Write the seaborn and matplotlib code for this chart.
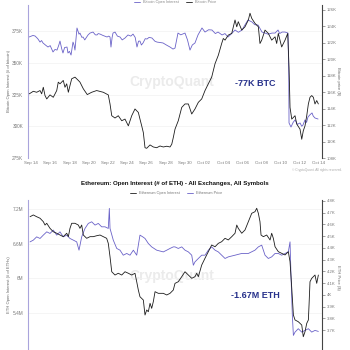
import numpy as np
import pandas as pd
import matplotlib
matplotlib.use("Agg")
import matplotlib.pyplot as plt
import seaborn as sns
from matplotlib.lines import Line2D

sns.set_theme(style="white")
plt.rcParams["font.family"] = ["Liberation Sans", "DejaVu Sans"]

# ---------------- data ----------------
BASE_DATE = "2025-09-14"

# Bitcoin open interest (thousand BTC), days since Sep 14
btc_oi_days = [-0.2, 0.2, 0.42, 0.7, 0.94, 1.1, 1.25, 1.5, 1.77, 2.0, 2.29, 2.5, 2.71, 2.9, 3.02, 3.2,
               3.33, 3.5, 3.75, 3.85, 4.0, 4.17, 4.375, 4.48, 4.58, 4.79, 5.0, 5.1, 5.3, 5.42, 5.6, 5.73,
               5.95, 6.15, 6.46, 6.7, 6.875, 7.0, 7.19, 7.5, 7.92, 8.1, 8.23, 8.33, 8.45, 8.54, 8.75, 9.0,
               9.27, 9.5, 9.79, 10.1, 10.4, 10.625, 10.85, 11.04, 11.2, 11.35, 11.5, 11.67, 11.9, 12.08,
               12.3, 12.6, 12.9, 13.125, 13.4, 13.75, 14.1, 14.48, 14.79, 15.0, 15.31, 15.6, 16.04, 16.3,
               16.56, 16.8, 17.08, 17.4, 17.81, 18.125, 18.5, 18.85, 19.2, 19.48, 19.9, 20.2, 20.52, 20.9,
               21.25, 21.6, 21.98, 22.3, 22.6, 23.02, 23.3, 23.65, 24.06, 24.375, 24.7, 25.1, 25.42, 25.73,
               25.9, 26.15, 26.46, 26.77, 26.85, 26.875, 27.08, 27.3, 27.5, 27.75, 28.02, 28.2, 28.33,
               28.54, 28.7, 28.85, 29.05, 29.27, 29.4, 29.58, 29.9]
btc_oi = [370.3, 371.5, 371.1, 369.0, 366.3, 367.5, 365.6, 364.0, 362.4, 363.5, 358.5, 360.5, 360.0, 364.0,
          367.1, 361.0, 357.7, 362.0, 362.4, 357.7, 359.0, 356.1, 366.3, 364.0, 360.0, 377.4, 372.5, 373.4,
          370.0, 370.3, 368.0, 369.5, 372.0, 373.4, 374.2, 372.0, 371.9, 373.0, 372.6, 371.5, 370.3, 371.0,
          370.3, 362.4, 370.0, 373.4, 374.2, 371.0, 370.3, 368.0, 369.5, 371.9, 371.0, 372.6, 370.0, 362.4,
          367.0, 367.1, 364.0, 365.6, 369.0, 368.7, 370.0, 369.5, 367.0, 366.3, 366.0, 365.6, 364.0, 362.4,
          360.8, 361.6, 373.4, 372.0, 373.4, 368.0, 360.0, 364.0, 365.6, 372.0, 377.4, 374.2, 376.0, 375.8,
          373.0, 374.2, 371.9, 373.0, 370.3, 373.0, 375.8, 374.0, 375.8, 380.0, 383.7, 382.1, 380.0, 379.7,
          374.2, 373.4, 372.5, 373.4, 373.4, 375.8, 373.0, 374.2, 374.2, 373.4, 340.0, 302.6, 299.4, 303.0,
          305.0, 301.5, 302.6, 300.0, 301.0, 305.0, 303.0, 307.3, 309.0, 310.5, 308.0, 306.5, 305.7]

# Bitcoin price (thousand USD)
btc_px_days = [-0.18, 0.24, 0.59, 0.94, 1.11, 1.28, 1.46, 1.64, 1.98, 2.32, 2.68, 2.84, 3.02, 3.36, 3.54,
               3.72, 3.89, 4.06, 4.24, 4.58, 4.93, 5.1, 5.45, 5.86, 6.32, 6.84, 7.53, 8.05, 8.23, 8.41,
               8.75, 9.09, 9.45, 9.79, 10.14, 10.49, 10.83, 11.18, 11.35, 11.53, 11.7, 11.875, 12.05, 12.4,
               12.74, 13.09, 13.44, 13.78, 14.14, 14.48, 14.66, 14.82, 15.0, 15.34, 15.7, 16.04, 16.39,
               16.74, 17.08, 17.43, 17.78, 18.125, 18.47, 18.82, 19.17, 19.51, 19.86, 20.03, 20.21, 20.55,
               20.91, 21.25, 21.43, 21.59, 21.95, 22.29, 22.64, 22.81, 22.99, 23.33, 23.68, 23.85, 24.03,
               24.375, 24.72, 25.07, 25.42, 25.59, 25.76, 26.11, 26.46, 26.74, 26.875, 26.98, 27.16, 27.5,
               27.68, 28.02, 28.2, 28.36, 28.54, 28.72, 28.89, 29.06, 29.24, 29.41, 29.58, 29.76, 29.93]
btc_px = [115.80, 116.11, 115.99, 116.20, 115.80, 116.60, 115.59, 115.18, 115.67, 115.38, 116.20, 117.22,
          117.02, 117.43, 116.60, 117.02, 115.99, 116.81, 117.63, 117.83, 117.43, 117.22, 116.41, 115.71,
          115.99, 116.20, 115.99, 115.67, 114.57, 113.14, 112.86, 113.14, 112.53, 112.73, 111.91, 113.14,
          113.96, 113.54, 112.73, 111.91, 111.09, 109.25, 109.18, 109.59, 109.34, 109.25, 109.46, 109.34,
          109.43, 109.34, 109.67, 110.48, 111.51, 112.53, 114.15, 114.57, 114.57, 113.35, 113.96, 114.77,
          115.18, 116.20, 117.02, 117.83, 119.47, 120.49, 121.92, 122.53, 122.33, 122.94, 123.15, 124.78,
          123.95, 124.57, 123.55, 123.95, 124.78, 125.60, 124.98, 124.37, 123.95, 121.92, 122.33, 123.55,
          123.15, 122.33, 122.73, 121.92, 123.15, 121.50, 122.33, 123.15, 119.05, 114.15, 112.73, 113.14,
          112.12, 111.51, 110.28, 111.30, 111.91, 113.14, 114.57, 115.38, 115.59, 115.38, 114.57, 114.98,
          114.57]

# Ethereum open interest (million ETH)
eth_oi_days = [-0.1, 0.24, 0.59, 0.94, 1.28, 1.64, 1.98, 2.32, 2.68, 3.02, 3.36, 3.72, 4.06, 4.41, 4.76,
               5.0, 5.28, 5.625, 5.97, 6.32, 6.67, 7.01, 7.36, 7.71, 8.05, 8.16, 8.23, 8.57, 8.93, 9.27,
               9.61, 9.97, 10.31, 10.66, 11.01, 11.35, 11.64, 11.875, 12.22, 12.57, 13.09, 13.78, 14.14,
               14.48, 14.82, 15.0, 15.34, 15.7, 16.04, 16.39, 16.74, 16.91, 17.08, 17.43, 17.78, 18.125,
               18.47, 18.82, 19.17, 19.51, 19.86, 20.21, 20.55, 21.25, 21.95, 22.64, 23.33, 23.68, 24.03,
               24.375, 24.72, 25.07, 25.42, 25.76, 26.11, 26.46, 26.8, 26.98, 27.08, 27.22, 27.33, 27.5,
               27.84, 28.2, 28.54, 28.89, 29.24, 29.58, 29.93]
eth_oi = [6.631, 6.661, 6.718, 6.690, 6.748, 6.805, 6.777, 6.835, 6.748, 6.805, 6.718, 6.748, 6.690,
          6.661, 6.631, 6.487, 6.718, 6.864, 6.951, 6.979, 6.922, 6.951, 6.892, 6.892, 6.864, 7.212, 6.864,
          6.661, 6.517, 6.487, 6.400, 6.430, 6.400, 6.487, 6.400, 6.748, 6.718, 6.690, 6.603, 6.544, 6.487,
          6.457, 6.487, 6.517, 6.544, 6.544, 6.517, 6.544, 6.487, 6.457, 6.400, 6.226, 6.284, 6.343, 6.400,
          6.400, 6.487, 6.544, 6.487, 6.457, 6.400, 6.343, 6.371, 6.400, 6.430, 6.430, 6.487, 6.544, 6.574,
          6.400, 6.343, 6.371, 6.430, 6.430, 6.400, 6.430, 6.457, 6.631, 6.052, 5.357, 5.009, 5.066, 5.125,
          5.066, 5.096, 5.125, 5.066, 5.096, 5.078]

# Ethereum price (thousand USD)
eth_px_days = [-0.1, 0.24, 0.59, 0.94, 1.28, 1.46, 1.64, 1.98, 2.32, 2.68, 3.02, 3.36, 3.72, 3.89, 4.06,
               4.24, 4.58, 4.93, 5.1, 5.28, 5.45, 5.8, 6.15, 6.49, 6.84, 7.19, 7.53, 7.88, 8.05, 8.23,
               8.41, 8.75, 9.09, 9.45, 9.79, 10.14, 10.49, 10.83, 11.01, 11.18, 11.35, 11.7, 11.875, 12.05,
               12.22, 12.4, 12.57, 12.74, 12.92, 13.26, 13.78, 14.14, 14.48, 14.82, 15.0, 15.34, 15.7,
               16.04, 16.39, 16.74, 17.08, 17.26, 17.43, 17.78, 18.125, 18.47, 18.82, 19.17, 19.51, 19.86,
               20.21, 20.55, 20.91, 21.25, 21.43, 21.59, 21.95, 22.29, 22.64, 22.99, 23.33, 23.51, 23.68,
               23.85, 23.96, 24.2, 24.55, 24.9, 25.07, 25.24, 25.42, 25.76, 26.11, 26.46, 26.8, 26.98,
               27.16, 27.33, 27.5, 27.84, 28.2, 28.36, 28.54, 28.72, 28.89, 28.96, 29.06, 29.24, 29.58,
               29.76, 29.93]
eth_px = [4.666, 4.681, 4.666, 4.653, 4.624, 4.595, 4.610, 4.567, 4.538, 4.525, 4.510, 4.496, 4.525,
          4.496, 4.567, 4.610, 4.610, 4.595, 4.567, 4.595, 4.510, 4.482, 4.496, 4.496, 4.504, 4.510, 4.496,
          4.482, 4.439, 4.325, 4.197, 4.169, 4.184, 4.169, 4.197, 4.184, 4.169, 4.184, 4.112, 4.041, 3.984,
          3.956, 3.828, 3.871, 3.856, 3.928, 3.885, 3.942, 4.027, 4.013, 4.013, 3.999, 4.013, 4.041, 4.098,
          4.112, 4.155, 4.197, 4.169, 4.141, 4.155, 4.184, 4.155, 4.254, 4.312, 4.368, 4.425, 4.410, 4.439,
          4.453, 4.482, 4.468, 4.496, 4.525, 4.595, 4.567, 4.525, 4.553, 4.624, 4.695, 4.709, 4.738, 4.695,
          4.624, 4.510, 4.496, 4.510, 4.468, 4.525, 4.482, 4.410, 4.368, 4.354, 4.340, 4.368, 4.283, 4.056,
          3.828, 3.786, 3.771, 3.743, 3.643, 3.686, 3.757, 3.786, 3.913, 4.112, 4.141, 4.169, 4.098, 4.169]

x_tick_days = [0, 2, 4, 6, 8, 10, 12, 14, 16, 18, 20, 22, 24, 26, 28, 30]
x_tick_labels = ["Sep 14", "Sep 16", "Sep 18", "Sep 20", "Sep 22", "Sep 24", "Sep 26", "Sep 28",
                 "Sep 30", "Oct 02", "Oct 04", "Oct 06", "Oct 08", "Oct 10", "Oct 12", "Oct 14"]
btc_oi_ticks = [275, 300, 325, 350, 375]
btc_oi_labels = ["275K", "300K", "325K", "350K", "375K"]
btc_px_ticks = [108, 110, 112, 114, 116, 118, 120, 122, 124, 126]
btc_px_labels = ["108K", "110K", "112K", "114K", "116K", "118K", "120K", "122K", "124K", "126K"]
eth_oi_ticks = [5.4, 6.0, 6.6, 7.2]
eth_oi_labels = ["5.4M", "6M", "6.6M", "7.2M"]
eth_px_ticks = [3.7, 3.8, 3.9, 4.0, 4.1, 4.2, 4.3, 4.4, 4.5, 4.6, 4.7, 4.8]
eth_px_labels = ["3.7K", "3.8K", "3.9K", "4K", "4.1K", "4.2K", "4.3K", "4.4K", "4.5K", "4.6K", "4.7K", "4.8K"]

# ---------------- style ----------------
PURPLE = "#6a62c8"
BLACK = "#1c1c1c"
SPINE_L = "#aaa4dc"
SPINE_R = "#444444"
TICK_C = "#7a7a7a"
ANNOT_C = "#27318b"
W, H = 350, 350


def to_time(days):
    return pd.Timestamp(BASE_DATE) + pd.to_timedelta(np.asarray(days, dtype=float), unit="D")


fig = plt.figure(figsize=(3.5, 3.5), dpi=100)
fig.patch.set_facecolor("white")

xmin, xmax = to_time([-0.3125])[0], to_time([30.31])[0]


def style_pair(ax, axr, lticks, llabels, rticks, rlabels, show_x):
    ax.patch.set_alpha(0)
    ax.set_xlim(xmin, xmax)
    ax.set_xticks(to_time(x_tick_days))
    ax.set_xticklabels(x_tick_labels)
    ax.tick_params(axis="x", labelsize=3.2, colors=TICK_C, length=0, pad=2.5, labelbottom=show_x)
    ax.set_xlabel("")
    ax.set_yticks(lticks)
    ax.set_yticklabels(llabels)
    ax.tick_params(axis="y", labelsize=3.4, colors=TICK_C, length=0, pad=3.5)
    ax.grid(axis="y", color="#f2f2f2", lw=0.5)
    ax.set_axisbelow(True)
    for s in ["top", "bottom", "right"]:
        ax.spines[s].set_visible(False)
    ax.spines["left"].set_color(SPINE_L)
    ax.spines["left"].set_linewidth(0.8)

    axr.set_yticks(rticks)
    axr.set_yticklabels(rlabels)
    axr.tick_params(axis="y", labelsize=3.1, colors=TICK_C, length=2, width=0.5, pad=1.2)
    for s in ["top", "bottom", "left"]:
        axr.spines[s].set_visible(False)
    axr.spines["right"].set_color(SPINE_R)
    axr.spines["right"].set_linewidth(0.8)


# ---------------- top: Bitcoin ----------------
ax1 = fig.add_axes([28 / W, 1 - 158 / H, 294 / W, 153 / H])
ax1r = ax1.twinx()
sns.lineplot(x=to_time(btc_oi_days), y=btc_oi, ax=ax1, color=PURPLE, lw=0.6,
             estimator=None, sort=False)
sns.lineplot(x=to_time(btc_px_days), y=btc_px, ax=ax1r, color=BLACK, lw=0.6,
             estimator=None, sort=False)
ax1.set_ylim(275, 395.5)
ax1r.set_ylim(108, 126.6)
style_pair(ax1, ax1r, btc_oi_ticks, btc_oi_labels, btc_px_ticks, btc_px_labels, True)
ax1.set_ylabel("Bitcoin Open Interest (# of bitcoin)", fontsize=3, color="#666")
ax1.yaxis.set_label_coords((11 - 28) / 294, 0.5)
ax1r.set_ylabel("Bitcoin price ($)", fontsize=3, color="#666", rotation=270)
ax1r.yaxis.set_label_coords((340 - 28) / 294, 0.5)

ax1.text(172 / W, 1 - 82 / H, "CryptoQuant", transform=fig.transFigure, fontsize=10,
         fontweight="bold", color="#ebebeb", ha="center", va="center", zorder=0)
fig.text(255 / W, 1 - 83 / H, "-77K BTC", fontsize=6.5, fontweight="bold", color=ANNOT_C,
         ha="center", va="center")
fig.legend(handles=[Line2D([], [], color=PURPLE, lw=0.6), Line2D([], [], color=BLACK, lw=0.6)],
           labels=["Bitcoin Open Interest", "Bitcoin Price"], loc="center",
           bbox_to_anchor=(175 / W, 1 - 2 / H), ncol=2, fontsize=2.8, frameon=False,
           handlelength=1.5, columnspacing=2, labelcolor="#888")
fig.text(342 / W, 1 - 170 / H, "© CryptoQuant. All rights reserved.", fontsize=2.3,
         color="#aaaaaa", ha="right", va="center")

# ---------------- bottom: Ethereum ----------------
fig.text(175 / W, 1 - 183 / H, "Ethereum: Open Interest (# of ETH) - All Exchanges, All Symbols",
         fontsize=4.4, fontweight="bold", color="#111111", ha="center", va="center")
ax2 = fig.add_axes([28 / W, 0, 294 / W, 150 / H])
ax2r = ax2.twinx()
sns.lineplot(x=to_time(eth_oi_days), y=eth_oi, ax=ax2, color=PURPLE, lw=0.6,
             estimator=None, sort=False)
sns.lineplot(x=to_time(eth_px_days), y=eth_px, ax=ax2r, color=BLACK, lw=0.6,
             estimator=None, sort=False)
ax2.set_ylim(4.756, 7.357)
ax2r.set_ylim(3.53, 4.8085)
style_pair(ax2, ax2r, eth_oi_ticks, eth_oi_labels, eth_px_ticks, eth_px_labels, False)
ax2.set_ylabel("ETH Open Interest (# of ETHs)", fontsize=3, color="#666")
ax2.yaxis.set_label_coords((11 - 28) / 294, 0.433)
ax2r.set_ylabel("ETH Price ($)", fontsize=3, color="#666", rotation=270)
ax2r.yaxis.set_label_coords((340 - 28) / 294, 0.487)

ax2.text(172 / W, 1 - 276 / H, "CryptoQuant", transform=fig.transFigure, fontsize=10,
         fontweight="bold", color="#ebebeb", ha="center", va="center", zorder=0)
fig.text(255 / W, 1 - 295 / H, "-1.67M ETH", fontsize=6.5, fontweight="bold", color=ANNOT_C,
         ha="center", va="center")
fig.legend(handles=[Line2D([], [], color=BLACK, lw=0.6), Line2D([], [], color=PURPLE, lw=0.6)],
           labels=["Ethereum Open Interest", "Ethereum Price"], loc="center",
           bbox_to_anchor=(176 / W, 1 - 193 / H), ncol=2, fontsize=2.8, frameon=False,
           handlelength=1.5, columnspacing=2, labelcolor="#777")

fig.savefig("out.png", dpi=100, facecolor="white")
